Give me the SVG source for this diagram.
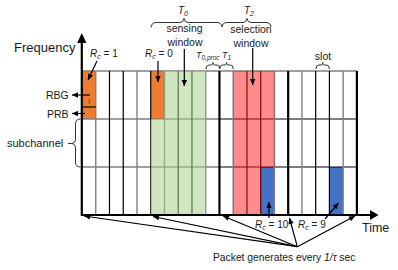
<svg xmlns="http://www.w3.org/2000/svg" width="398" height="270" viewBox="0 0 398 270">
<style>
text{font-family:"Liberation Sans",Arial,sans-serif;fill:#1a1a1a}
.g{stroke:#808080;stroke-width:1.4;fill:none}
.b{stroke:#000;stroke-width:1.2;fill:none}
.t{stroke:#000;stroke-width:2.2;fill:none}
.br{stroke:#333;stroke-width:1;fill:none}
.ar{stroke:#000;stroke-width:1.2;fill:none;marker-end:url(#ah)}
.it{font-style:italic}
</style>
<defs>
<marker id="ah" viewBox="0 0 10 10" refX="10" refY="5" markerWidth="7" markerHeight="6" orient="auto" markerUnits="userSpaceOnUse">
<path d="M0,0.5 L10,5 L0,9.5 z" fill="#000"/>
</marker>
</defs>
<rect width="398" height="270" fill="#fff"/>

<g id="fills">
<rect x="82" y="71" width="13.75" height="48" fill="#ed7d31"/>
<rect x="150.73" y="71" width="13.74" height="48" fill="#ed7d31"/>
<rect x="260.69" y="167" width="13.74" height="48" fill="#4472c4"/>
<rect x="329.41" y="167" width="13.75" height="48" fill="#4472c4"/>
</g>

<g id="grid">
<path class="g" d="M82,71H356.9 M82,119H219.45 M82,167H219.45"/>
<path class="b" d="M219.45,119H356.9 M219.45,167H356.9"/>
<path class="g" d="M95.75,71V215 M136.98,71V215 M164.47,71V215 M205.71,71V215 M233.2,71V215 M274.43,71V215 M301.92,71V215 M343.16,71V215"/>
<path class="b" d="M109.49,71V215 M123.24,71V215 M150.73,71V215 M178.22,71V215 M191.96,71V215 M246.94,71V215 M260.69,71V215 M315.67,71V215 M329.41,71V215"/>
<path class="b" d="M82,107H95.75"/>
</g>

<g id="sensing-window">
<rect x="150.73" y="119" width="54.98" height="96" fill="#a9d18e" fill-opacity="0.55"/>
<rect x="164.47" y="71" width="41.24" height="48" fill="#a9d18e" fill-opacity="0.55"/>
</g>
<g id="selection-window">
<rect x="233.2" y="71" width="41.23" height="96" fill="#ff1a1a" fill-opacity="0.5"/>
<rect x="233.2" y="167" width="27.49" height="48" fill="#ff1a1a" fill-opacity="0.5"/>
</g>

<g id="thick">
<path class="t" d="M219.45,71V215 M288.18,71V215 M356.9,71V215"/>
</g>

<g id="axes">
<path class="t" d="M81.8,216V42 M81,215H371"/>
<polygon points="77.2,43 81.8,33 86.4,43" fill="#000"/>
<polygon points="370,210 378.5,215 370,220" fill="#000"/>
<text x="14" y="51.5" font-size="13">Frequency</text>
<text x="362" y="232" font-size="12.5">Time</text>
</g>

<g id="braces">
<path class="br" d="M151,27.5 Q151.5,22.5 156,22.5 L180,22.5 Q183.5,22.5 184,18.5 Q184.5,22.5 188,22.5 L217,22.5 Q221.5,22.5 222,27"/>
<path class="br" d="M222,27 Q222.5,22.5 227,22.5 L243,22.5 Q246.5,22.5 247,18.5 Q247.5,22.5 251,22.5 L266,22.5 Q270.5,22.5 271,27"/>
<path class="br" d="M206,69 Q206,65 209,65 L211.5,65 Q212.8,65 213,62.5 Q213.2,65 214.5,65 L217,65 Q219.7,65 219.7,69"/>
<path class="br" d="M219.7,69 Q219.7,65 222.5,65 L225,65 Q226.3,65 226.5,62.5 Q226.7,65 228,65 L230.5,65 Q233.2,65 233.2,69"/>
<path class="br" d="M315.9,69 Q315.9,65 318.7,65 L321.2,65 Q322.5,65 322.7,62.5 Q322.9,65 324.2,65 L326.7,65 Q329.4,65 329.4,69"/>
<path class="br" d="M80.5,119 Q75.5,119 75.5,124 L75.5,139 Q75.5,143.5 71,143.5 Q75.5,143.5 75.5,148 L75.5,162 Q75.5,167 80.5,167 M68,143.5H71"/>
</g>

<g id="labels">
<text x="178" y="14" font-size="10" class="it">T<tspan font-size="7" dy="2">0</tspan></text>
<text x="244" y="14" font-size="10" class="it">T<tspan font-size="7" dy="2">2</tspan></text>
<text x="184.5" y="32" font-size="10.5" text-anchor="middle">sensing</text>
<text x="185" y="46" font-size="10.5" text-anchor="middle">window</text>
<text x="251" y="33" font-size="10.5" text-anchor="middle">selection</text>
<text x="251" y="46.5" font-size="10.5" text-anchor="middle">window</text>
<text x="196" y="58" font-size="9" class="it">T<tspan font-size="6.5" dy="1.8">0,proc</tspan></text>
<text x="222" y="58" font-size="9" class="it">T<tspan font-size="6.5" dy="1.8">1</tspan></text>
<text x="323" y="60" font-size="10.5" text-anchor="middle">slot</text>
<text x="90" y="57" font-size="10"><tspan class="it">R</tspan><tspan font-size="7" dy="2" class="it">c</tspan><tspan dy="-2"> = 1</tspan></text>
<text x="145" y="57" font-size="10"><tspan class="it">R</tspan><tspan font-size="7" dy="2" class="it">c</tspan><tspan dy="-2"> = 0</tspan></text>
<text x="46" y="99" font-size="10.5">RBG</text>
<text x="47" y="118" font-size="10.5">PRB</text>
<text x="88.4" y="103.5" font-size="7" fill="#333">i</text>
<text x="7" y="147" font-size="11">subchannel</text>
<text x="255" y="228" font-size="10"><tspan class="it">R</tspan><tspan font-size="7" dy="2" class="it">c</tspan><tspan dy="-2"> = 10</tspan></text>
<text x="298" y="228" font-size="10"><tspan class="it">R</tspan><tspan font-size="7" dy="2" class="it">c</tspan><tspan dy="-2"> = 9</tspan></text>
<text x="213" y="260.5" font-size="10.3">Packet generates every <tspan class="it">1/τ</tspan> sec</text>
</g>

<g id="connectors">
<path class="ar" d="M97,61 L88,80"/>
<path class="ar" d="M158,61 L158,82"/>
<path class="ar" d="M184.3,49 L184.3,86"/>
<path class="ar" d="M252.7,48 L252.7,85"/>
<path class="ar" d="M90,95 L72,95"/>
<path class="ar" d="M85,113.5 L72,113.5"/>
<path class="ar" d="M269,218 L269,202"/>
<path class="ar" d="M325,219 L338.5,203"/>
<path class="ar" d="M297.3,246.7 L84,216"/>
<path class="ar" d="M297.3,246.7 L153,216.5"/>
<path class="ar" d="M297.3,246.7 L223,216"/>
<path class="ar" d="M297.3,246.7 L289.5,218"/>
<path class="ar" d="M297.3,246.7 L355,216"/>
</g>
</svg>
